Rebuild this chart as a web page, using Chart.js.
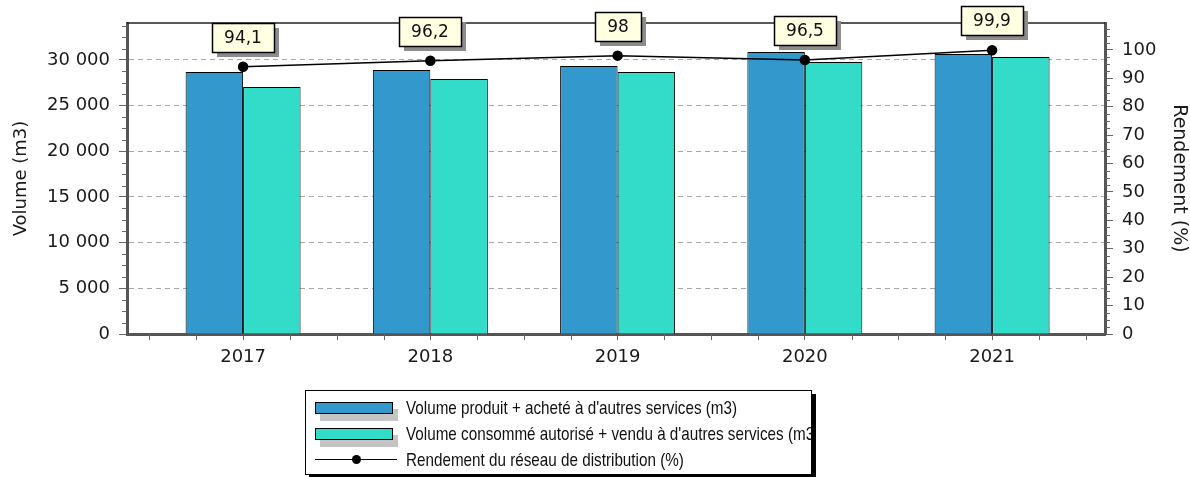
<!DOCTYPE html>
<html>
<head>
<meta charset="utf-8">
<title>Rendement du réseau de distribution</title>
<script src="https://cdn.jsdelivr.net/npm/chart.js@4.4.1/dist/chart.umd.min.js"></script>
<style>
  body { margin: 0; background: #fff; }
  #wrap { position: relative; width: 1190px; height: 477px; overflow: hidden; }
  #legend {
    position: absolute; left: 305px; top: 390px; width: 505px; height: 83px;
    border: 1px solid #000; background: #fff; box-shadow: 4px 4px 0 #000;
    overflow: hidden;
    font-family: "Liberation Sans Narrow", "Liberation Sans", Arial, sans-serif;
    font-size: 19px; color: #111;
  }
  #legend .row { position: absolute; left: 0; height: 24px; width: 600px; }
  #legend .swatch {
    position: absolute; left: 9px; top: 6px; width: 76px; height: 10px;
    border: 1px solid #000; box-shadow: 5px 7px 0 #c4c4c4;
  }
  #legend .lineMark { position: absolute; left: 9px; top: 11px; width: 82px; height: 1px; background: #000; }
  #legend .dot { position: absolute; left: 46px; top: 7px; width: 9px; height: 9px; border-radius: 50%; background: #000; }
  #legend .txt { position: absolute; left: 100px; top: 0; line-height: 24px; white-space: nowrap; transform-origin: 0 50%; }
</style>
</head>
<body>
<div id="wrap">
  <canvas id="chart" width="1190" height="477"></canvas>
  <div id="legend"></div>
</div>
<script>
// Données
const years = [2017, 2018, 2019, 2020, 2021];
const volumeProduit = [28690, 28900, 29340, 30880, 30660];
const volumeConsomme = [27040, 27920, 28690, 29780, 30330];
const rendement = [94.1, 96.2, 98, 96.5, 99.9];

const volumeTicks = [0, 5000, 10000, 15000, 20000, 25000, 30000];
const rendementTicks = [0, 10, 20, 30, 40, 50, 60, 70, 80, 90, 100];

const seriesNames = [
    "Volume produit + acheté à d'autres services (m3)",
    "Volume consommé autorisé + vendu à d'autres services (m3)",
    "Rendement du réseau de distribution (%)"
];

const COLORS = { produit: '#3399cc', consomme: '#33dcc8', line: '#000', axis: '#555', tick: '#666', grid: '#a8a8a8' };
const FONT = '"DejaVu Sans", Verdana, sans-serif';

function fmtVolume(v) {
    return String(v).replace(/\B(?=(\d{3})+(?!\d))/g, ' ');
}
function fmtRendement(v) {
    return String(v).replace('.', ',');
}

// petites graduations intermédiaires
const minorTicks = {
    id: 'minorTicks',
    afterDraw(chart) {
        const ctx = chart.ctx;
        const { x, y, y1 } = chart.scales;
        ctx.save();
        ctx.strokeStyle = COLORS.tick;
        ctx.lineWidth = 1;
        ctx.beginPath();
        for (let v = 0; v <= y.max; v += 1250) {
            if (v % 5000 === 0) continue;
            const py = Math.round(y.getPixelForValue(v)) + 0.5;
            ctx.moveTo(y.right - 5, py);
            ctx.lineTo(y.right, py);
        }
        for (let v = 0; v <= y1.max; v += 2.5) {
            if (v % 10 === 0) continue;
            const py = Math.round(y1.getPixelForValue(v)) + 0.5;
            ctx.moveTo(y1.left, py);
            ctx.lineTo(y1.left + 5, py);
        }
        for (let v = years[0] - 0.5; v <= x.max; v += 0.25) {
            if (Number.isInteger(v) || v < x.min) continue;
            const px = Math.round(x.getPixelForValue(v)) + 0.5;
            ctx.moveTo(px, x.top);
            ctx.lineTo(px, x.top + 6);
        }
        ctx.stroke();
        ctx.restore();
    }
};

// trait du haut du cadre
const topFrame = {
    id: 'topFrame',
    afterDraw(chart) {
        const { ctx, chartArea } = chart;
        ctx.save();
        ctx.strokeStyle = '#222';
        ctx.lineWidth = 1.5;
        ctx.beginPath();
        ctx.moveTo(chartArea.left, chartArea.top);
        ctx.lineTo(chartArea.right, chartArea.top);
        ctx.stroke();
        ctx.restore();
    }
};

// étiquettes de valeur du rendement
const valueBoxes = {
    id: 'valueBoxes',
    afterDraw(chart) {
        const ctx = chart.ctx;
        const meta = chart.getDatasetMeta(2);
        ctx.save();
        ctx.font = '17px ' + FONT;
        ctx.textAlign = 'center';
        ctx.textBaseline = 'middle';
        meta.data.forEach((pt, i) => {
            const text = fmtRendement(rendement[i]);
            const w = Math.round(ctx.measureText(text).width + 24);
            const h = 29;
            const bx = Math.round(pt.x - w / 2);
            const by = Math.round(pt.y - 15 - h);
            ctx.fillStyle = '#8c8c8c';
            ctx.fillRect(bx + 5, by + 5, w, h);
            ctx.fillStyle = '#ffffe1';
            ctx.fillRect(bx, by, w, h);
            ctx.strokeStyle = '#000';
            ctx.lineWidth = 1.5;
            ctx.strokeRect(bx + 0.5, by + 0.5, w, h);
            ctx.fillStyle = '#111';
            ctx.fillText(text, bx + w / 2, by + h / 2 + 1);
        });
        ctx.restore();
    }
};

Chart.defaults.font.family = FONT;
Chart.defaults.font.size = 18;
Chart.defaults.color = '#1a1a1a';

new Chart(document.getElementById('chart'), {
    type: 'bar',
    data: {
        labels: years,
        datasets: [
            {
                label: seriesNames[0],
                data: volumeProduit,
                backgroundColor: COLORS.produit,
                borderColor: '#000',
                borderWidth: 1,
                categoryPercentage: 0.614,
                barPercentage: 1,
                yAxisID: 'y',
                order: 2
            },
            {
                label: seriesNames[1],
                data: volumeConsomme,
                backgroundColor: COLORS.consomme,
                borderColor: '#000',
                borderWidth: 1,
                categoryPercentage: 0.614,
                barPercentage: 1,
                yAxisID: 'y',
                order: 2
            },
            {
                type: 'line',
                label: seriesNames[2],
                data: rendement,
                borderColor: COLORS.line,
                borderWidth: 1.5,
                pointRadius: 4.5,
                pointBackgroundColor: '#000',
                pointBorderColor: '#000',
                tension: 0,
                yAxisID: 'y1',
                order: 1
            }
        ]
    },
    options: {
        responsive: false,
        animation: false,
        layout: { padding: { top: 23, left: 0, right: 0, bottom: 0 } },
        plugins: {
            legend: { display: false },
            tooltip: { enabled: false }
        },
        scales: {
            x: {
                type: 'linear',
                position: 'bottom',
                offset: false,
                min: 2016.38,
                max: 2021.603,
                afterBuildTicks: s => { s.ticks = years.map(v => ({ value: v })); },
                afterFit: s => { s.height = 143; },
                grid: { drawOnChartArea: false, offset: false, tickLength: 6, tickColor: COLORS.tick },
                border: { color: COLORS.axis, width: 3 },
                ticks: { callback: v => String(v), padding: 7, autoSkip: false, maxRotation: 0 }
            },
            y: {
                position: 'left',
                min: 0,
                max: 34050,
                afterBuildTicks: s => { s.ticks = volumeTicks.map(v => ({ value: v })); },
                afterFit: s => { s.width = 127; },
                grid: { color: COLORS.grid, tickColor: COLORS.tick, tickLength: 8 },
                border: { color: COLORS.axis, width: 3, dash: [5, 4] },
                ticks: { callback: v => fmtVolume(v), padding: 9 },
                title: { display: true, text: 'Volume (m3)', padding: { top: 11, bottom: 0 }, font: { size: 18 } }
            },
            y1: {
                position: 'right',
                min: 0,
                max: 109.5,
                afterBuildTicks: s => { s.ticks = rendementTicks.map(v => ({ value: v })); },
                afterFit: s => { s.width = 85; },
                grid: { drawOnChartArea: false, tickColor: COLORS.tick, tickLength: 8 },
                border: { color: COLORS.axis, width: 3 },
                ticks: { callback: v => String(v), padding: 9 },
                title: { display: true, text: 'Rendement (%)', padding: { top: 0, bottom: 0 }, font: { size: 19 } }
            }
        }
    },
    plugins: [minorTicks, topFrame, valueBoxes]
});

// légende
const legend = document.getElementById('legend');
const rowTops = [5, 31, 57];
seriesNames.forEach((name, i) => {
    const row = document.createElement('div');
    row.className = 'row';
    row.style.top = rowTops[i] + 'px';
    if (i < 2) {
        const sw = document.createElement('span');
        sw.className = 'swatch';
        sw.style.background = i === 0 ? COLORS.produit : COLORS.consomme;
        row.appendChild(sw);
    } else {
        const ln = document.createElement('span');
        ln.className = 'lineMark';
        const dot = document.createElement('span');
        dot.className = 'dot';
        row.appendChild(ln);
        row.appendChild(dot);
    }
    const txt = document.createElement('span');
    txt.className = 'txt';
    txt.textContent = name;
    row.appendChild(txt);
    legend.appendChild(row);
});
const texts = legend.querySelectorAll('.txt');
const k = 331 / texts[0].getBoundingClientRect().width;
texts.forEach(t => { t.style.transform = 'scaleX(' + k.toFixed(3) + ')'; });
</script>
</body>
</html>
